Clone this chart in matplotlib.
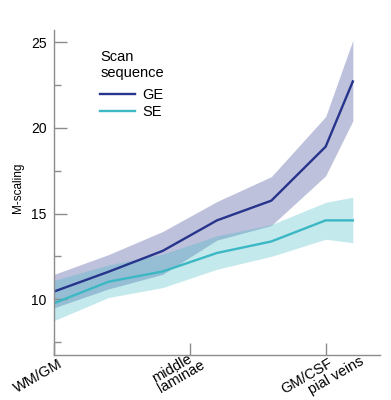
import matplotlib
matplotlib.use("Agg")
import matplotlib.pyplot as plt
import matplotlib.transforms as mtransforms
import numpy as np

plt.rcParams["font.family"] = ["Liberation Sans", "DejaVu Sans"]

# cortical depth positions (WM/GM = 0, GM/CSF = 1, pial veins beyond)
depth = [0.0, 0.2, 0.4, 0.6, 0.8, 1.0, 1.1]

ge_mean = [10.45, 11.6, 12.82, 14.6, 15.75, 18.9, 22.7]
ge_upper = [11.45, 12.6, 13.95, 15.7, 17.15, 20.65, 25.1]
ge_lower = [9.5, 10.6, 11.45, 13.45, 14.3, 17.2, 20.4]

se_mean = [9.77, 11.02, 11.62, 12.7, 13.37, 14.6, 14.6]
se_upper = [11.1, 12.0, 12.63, 13.7, 14.35, 15.65, 15.95]
se_lower = [8.75, 10.1, 10.68, 11.75, 12.5, 13.5, 13.3]

tick_pos = [0.0, 0.5, 1.0]
tick_labels = ["WM/GM", "middle\nlaminae", "GM/CSF"]
extra_label = "pial veins"
extra_pos = 1.125

ge_col = "#27348b"
se_col = "#3bb8c4"
spine_col = "#8c8c8c"

fig = plt.figure(figsize=(3.91, 4.0), dpi=100)
ax = fig.add_axes([54/391, 45/400, 326/391, 325/400])

ax.fill_between(depth, ge_lower, ge_upper, color=ge_col, alpha=0.3, lw=0)
ax.fill_between(depth, se_lower, se_upper, color=se_col, alpha=0.3, lw=0)
ax.plot(depth, ge_mean, color=ge_col, lw=1.7, label="GE")
ax.plot(depth, se_mean, color=se_col, lw=1.7, label="SE")

ax.set_xlim(0, 1.2)
ax.set_ylim(6.75, 25.7)

for s in ["top", "right"]:
    ax.spines[s].set_visible(False)
for s in ["left", "bottom"]:
    ax.spines[s].set_color(spine_col)
    ax.spines[s].set_linewidth(1.0)

ax.set_yticks([10, 15, 20, 25])
ax.set_yticks([7.5, 12.5, 17.5, 22.5], minor=True)
ax.tick_params(axis="y", which="major", direction="in", length=9.6, width=1,
               color=spine_col, labelsize=10, pad=5.3)
ax.tick_params(axis="y", which="minor", direction="in", length=4.8, width=1,
               color=spine_col)

ax.set_xticks(tick_pos)
ax.set_xticklabels(tick_labels, rotation=30, ha="right", va="top",
                   rotation_mode="anchor", fontsize=10.5,
                   multialignment="left", linespacing=0.85)
ax.tick_params(axis="x", which="major", direction="in", length=8.6, width=1,
               color=spine_col, pad=1)
# nudge labels: (dx, dy) in pixels
nudges = [(4, 0), (4, 9), (2, 0)]
for lab, (dx, dy) in zip(ax.get_xticklabels(), nudges):
    shift = mtransforms.ScaledTranslation(dx/100, dy/100, fig.dpi_scale_trans)
    lab.set_transform(lab.get_transform() + shift)

ax.text(extra_pos, 0.004, extra_label, transform=ax.get_xaxis_transform(),
        rotation=30, ha="right", va="top", rotation_mode="anchor",
        fontsize=10.5)

ax.set_ylabel("M-scaling", fontsize=8.5)
ax.yaxis.set_label_coords(-0.092, 0.514)

leg = ax.legend(title="Scan\nsequence", loc="upper left",
                bbox_to_anchor=(0.11, 0.97), frameon=False,
                prop={"size": 10.5}, title_fontsize=10.5,
                handlelength=2.4, handletextpad=0.5, labelspacing=0.2,
                borderaxespad=0, borderpad=0.7)
leg._legend_box.align = "left"
leg._legend_box.sep = 5.8

fig.savefig("out.png", dpi=100)
